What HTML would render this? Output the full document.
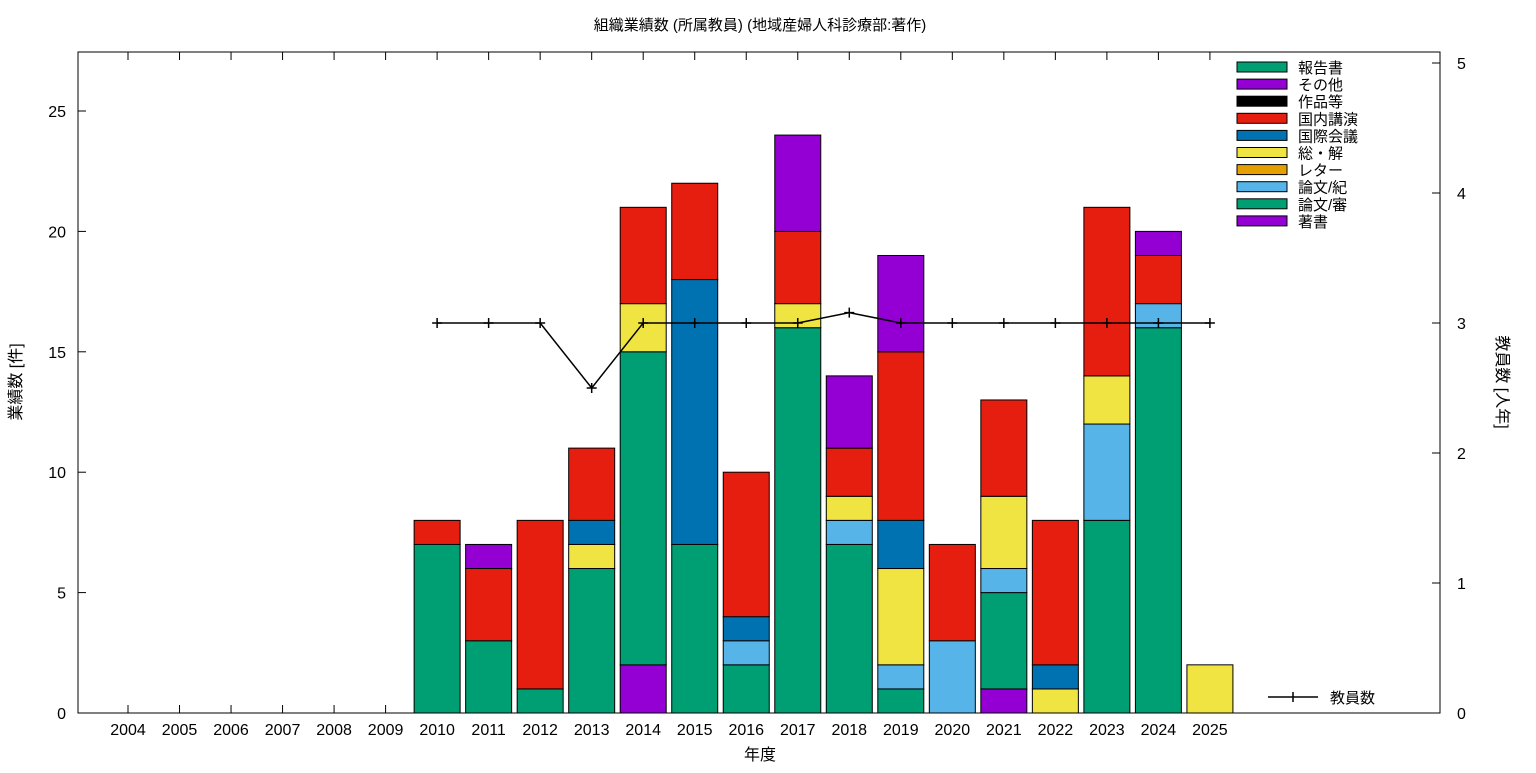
<!DOCTYPE html>
<html><head><meta charset="utf-8"><style>
body{margin:0;background:#fff;font-family:"Liberation Sans","Noto Sans CJK JP",sans-serif}
svg text{font-family:"Liberation Sans","Noto Sans CJK JP",sans-serif}
</style></head><body>
<svg id="c" width="1536" height="768" xmlns="http://www.w3.org/2000/svg">
<text x="760" y="30" font-size="15" text-anchor="middle">組織業績数 (所属教員) (地域産婦人科診療部:著作)</text>
<rect x="78" y="52" width="1362" height="661" fill="none" stroke="#000"/>
<g id="grid"></g><g id="bars"></g><g id="line"></g><g id="legend"></g>
<text x="760" y="760" font-size="16" text-anchor="middle">年度</text>
<text transform="translate(21,382) rotate(-90)" font-size="16" text-anchor="middle">業績数 [件]</text>
<text transform="translate(1497,382) rotate(90)" font-size="16" text-anchor="middle">教員数 [人年]</text>
</svg>
<script>
const years=[2004,2005,2006,2007,2008,2009,2010,2011,2012,2013,2014,2015,2016,2017,2018,2019,2020,2021,2022,2023,2024,2025];
const seriesNames=["著書","論文/審","論文/紀","レター","総・解","国際会議","国内講演","作品等","その他","報告書"];
const seriesColors=["#9400d3","#009e73","#56b4e9","#e69f00","#f0e442","#0072b2","#e51e10","#000000","#9400d3","#009e73"];
const chosho  =[0,0,0,0,0,0,0,0,0,0,2,0,0,0,0,0,0,1,0,0,0,0];
const ronshin =[0,0,0,0,0,0,7,3,1,6,13,7,2,16,7,1,0,4,0,8,16,0];
const ronki   =[0,0,0,0,0,0,0,0,0,0,0,0,1,0,1,1,3,1,0,4,1,0];
const letter  =[0,0,0,0,0,0,0,0,0,0,0,0,0,0,0,0,0,0,0,0,0,0];
const soukai  =[0,0,0,0,0,0,0,0,0,1,2,0,0,1,1,4,0,3,1,2,0,2];
const kokusai =[0,0,0,0,0,0,0,0,0,1,0,11,1,0,0,2,0,0,1,0,0,0];
const kokunai =[0,0,0,0,0,0,1,3,7,3,4,4,6,3,2,7,4,4,6,7,2,0];
const sakuhin =[0,0,0,0,0,0,0,0,0,0,0,0,0,0,0,0,0,0,0,0,0,0];
const sonota  =[0,0,0,0,0,0,0,1,0,0,0,0,0,4,3,4,0,0,0,0,1,0];
const houkoku =[0,0,0,0,0,0,0,0,0,0,0,0,0,0,0,0,0,0,0,0,0,0];
const staffYears=[2010,2011,2012,2013,2014,2015,2016,2017,2018,2019,2020,2021,2022,2023,2024,2025];
const staff=[3,3,3,2.5,3,3,3,3,3.08,3,3,3,3,3,3,3];
const yTicks=[0,5,10,15,20,25];
const y2Ticks=[0,1,2,3,4,5];
const series=[chosho,ronshin,ronki,letter,soukai,kokusai,kokunai,sakuhin,sonota,houkoku];
const NS="http://www.w3.org/2000/svg";
const X=i=>128+i*51.52, Y=v=>713-v*24.08, Y2=v=>713-v*130;
function mk(p,t,a){const e=document.createElementNS(NS,t);for(const k in a)e.setAttribute(k,a[k]);document.getElementById(p).appendChild(e);return e;}
yTicks.forEach(v=>{
 const l=mk('grid','line',{x1:78,x2:86,y1:Y(v),y2:Y(v),stroke:'#000'});
 
 
 const t=mk('grid','text',{x:66,y:Y(v)+6,'font-size':16,'text-anchor':'end'});t.textContent=v;
 
 
});
y2Ticks.forEach(v=>{
 const l=mk('grid','line',{x1:1432,x2:1440,y1:Y2(v),y2:Y2(v),stroke:'#000'});
 
 
 const t=mk('grid','text',{x:1457,y:Y2(v)+6,'font-size':16});t.textContent=v;
 
 
});
years.forEach((y,i)=>{
 const a=mk('grid','line',{x1:X(i),x2:X(i),y1:705,y2:713,stroke:'#000'});
 
 
 const b=mk('grid','line',{x1:X(i),x2:X(i),y1:52,y2:60,stroke:'#000'});
 
 
 const t=mk('grid','text',{x:X(i),y:735,'font-size':16,'text-anchor':'middle'});t.textContent=y;
 
 
 let base=0;
 series.forEach((s,k)=>{
  const v=s[i]; if(!v) return;
  const r=mk('bars','rect',{x:X(i)-23,y:Y(base+v),width:46,height:Y(base)-Y(base+v),fill:seriesColors[k],stroke:'#000','stroke-width':1});
  
  
  base+=v;
 });
});
const pts=staffYears.map((y,i)=>X(years.indexOf(y))+','+Y2(staff[i])).join(' ');
const pl=mk('line','polyline',{points:pts,fill:'none',stroke:'#000','stroke-width':1.5});


staffYears.forEach((y,i)=>{
 const x=X(years.indexOf(y)),yy=Y2(staff[i]);
 const m=mk('line','path',{d:`M${x-5},${yy}h10M${x},${yy-5}v10`,stroke:'#000','stroke-width':1.5});
 
 
});
for(let k=9;k>=0;k--){
 const row=9-k, yy=67+row*17.1;
 const r=mk('legend','rect',{x:1237,y:yy-5,width:50,height:10,fill:seriesColors[k],stroke:'#000'});
 
 
 const t=mk('legend','text',{x:1298,y:yy+6,'font-size':15});t.textContent=seriesNames[k];
 
 
}
const ll=mk('legend','path',{d:'M1268,697h50M1293,692v10',stroke:'#000','stroke-width':1.5});


const lt=mk('legend','text',{x:1330,y:703,'font-size':15});lt.textContent='教員数';


</script>
</body></html>
